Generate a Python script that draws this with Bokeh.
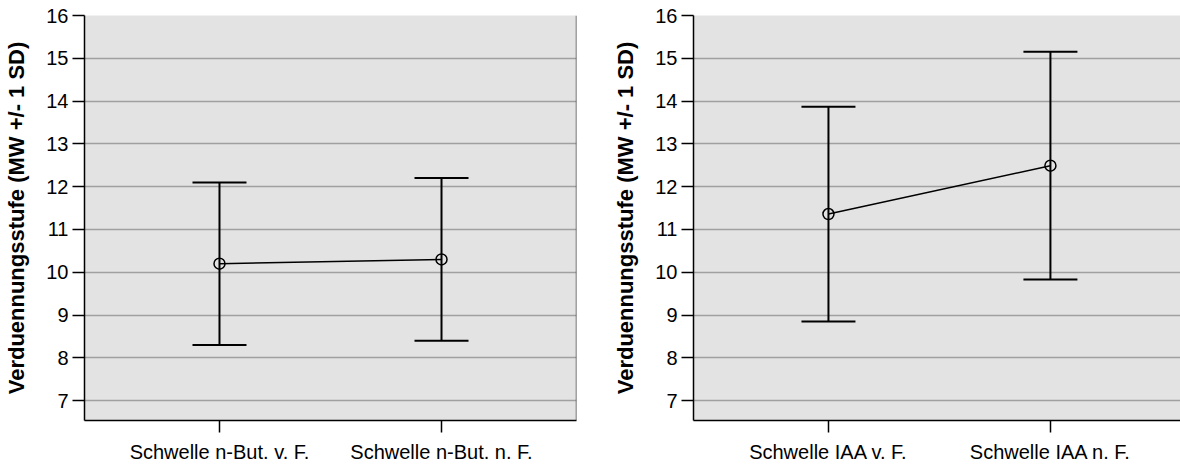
from bokeh.plotting import figure
from bokeh.models import Range1d, FixedTicker, Whisker, ColumnDataSource, TeeHead, Span
from bokeh.layouts import row
from bokeh.embed import file_html
from bokeh.resources import INLINE

cats_but = ["Schwelle n-But. v. F.", "Schwelle n-But. n. F."]
mean_but = [10.2, 10.3]
sd_but = [1.9, 1.9]

cats_iaa = ["Schwelle IAA v. F.", "Schwelle IAA n. F."]
mean_iaa = [11.36, 12.49]
sd_iaa = [2.51, 2.66]

y_ticks = [7, 8, 9, 10, 11, 12, 13, 14, 15, 16]
y_label = "Verduennungsstufe (MW +/- 1 SD)"

FONT = "Liberation Sans"


def make_panel(cats, means, sds, border_left, border_right, x_end, right_border):
    xs = [1, 2]
    p = figure(width=590, height=465,
               x_range=Range1d(0.392, x_end), y_range=Range1d(6.535, 16),
               output_backend="svg", toolbar_location=None,
               min_border_left=border_left, min_border_right=border_right,
               min_border_top=15, min_border_bottom=43)
    p.background_fill_color = "#e3e3e3"
    p.border_fill_color = "white"
    p.outline_line_color = None
    p.xgrid.visible = False
    p.ygrid.ticker = FixedTicker(ticks=y_ticks)
    p.ygrid.grid_line_color = "#a0a0a0"
    p.ygrid.grid_line_width = 1.5

    p.yaxis.ticker = FixedTicker(ticks=y_ticks)
    p.yaxis.axis_label = y_label
    p.yaxis.axis_label_text_font = FONT
    p.yaxis.axis_label_text_font_style = "bold"
    p.yaxis.axis_label_text_font_size = "22px"
    p.yaxis.axis_label_text_color = "black"
    p.yaxis.axis_label_standoff = 14
    p.yaxis.major_label_text_font = FONT
    p.yaxis.major_label_text_font_size = "20px"
    p.yaxis.major_label_text_color = "black"
    p.yaxis.major_label_standoff = 4

    p.xaxis.ticker = FixedTicker(ticks=xs)
    p.xaxis.major_label_overrides = {1: cats[0], 2: cats[1]}
    p.xaxis.major_label_text_font = FONT
    p.xaxis.major_label_text_font_size = "20px"
    p.xaxis.major_label_text_color = "black"
    p.xaxis.major_label_standoff = 8

    for ax in (p.xaxis, p.yaxis):
        ax.axis_line_color = "black"
        ax.axis_line_width = 1.5
        ax.major_tick_line_color = "black"
        ax.major_tick_line_width = 1.5
        ax.major_tick_out = 12
        ax.major_tick_in = 0
        ax.minor_tick_line_color = None

    if right_border:
        p.add_layout(Span(location=x_end, dimension="height",
                          line_color="#555555", line_width=1.5))

    upper = [m + s for m, s in zip(means, sds)]
    lower = [m - s for m, s in zip(means, sds)]
    src = ColumnDataSource(dict(x=xs, upper=upper, lower=lower, mean=means))
    w = Whisker(base="x", upper="upper", lower="lower", source=src,
                line_color="black", line_width=2,
                upper_head=TeeHead(size=54, line_color="black", line_width=2),
                lower_head=TeeHead(size=54, line_color="black", line_width=2))
    p.add_layout(w)
    p.line("x", "mean", source=src, line_color="black", line_width=1.5)
    p.scatter("x", "mean", source=src, marker="circle", size=11,
              fill_color=None, line_color="black", line_width=1.5)
    return p


p1 = make_panel(cats_but, mean_but, sd_but, 84, 14, 2.608, True)
p2 = make_panel(cats_iaa, mean_iaa, sd_iaa, 103, 0, 2.586, False)

layout = row(p1, p2)
open("out.html", "w").write(file_html(layout, INLINE))
